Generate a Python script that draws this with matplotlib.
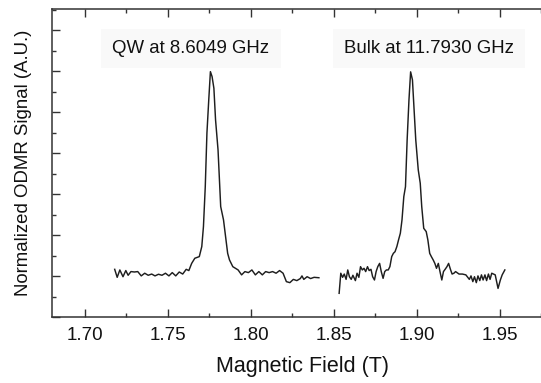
import matplotlib.pyplot as plt
from matplotlib.ticker import MultipleLocator, NullFormatter

plt.rcParams['font.family'] = ['Liberation Sans', 'DejaVu Sans']

# QW spectrum (field in T, normalized signal)
qwField = [1.7180, 1.7195, 1.7211, 1.7230, 1.7247, 1.7261, 1.7278, 1.7299,
           1.7319, 1.7340, 1.7361, 1.7382, 1.7403, 1.7423, 1.7444, 1.7465,
           1.7486, 1.7507, 1.7527, 1.7548, 1.7569, 1.7590, 1.7611, 1.7627,
           1.7644, 1.7663, 1.7690, 1.7705, 1.7715, 1.7726, 1.7736, 1.7747,
           1.7757, 1.7767, 1.7778, 1.7788, 1.7803, 1.7819, 1.7836, 1.7851,
           1.7861, 1.7872, 1.7892, 1.7924, 1.7945, 1.7965, 1.7986, 1.8007,
           1.8028, 1.8049, 1.8070, 1.8090, 1.8111, 1.8132, 1.8153, 1.8174,
           1.8195, 1.8215, 1.8236, 1.8257, 1.8278, 1.8299, 1.8309, 1.8320,
           1.8340, 1.8361, 1.8382, 1.8411]
qwSignal = [0.034, -0.005, 0.031, -0.002, 0.028, 0.005, 0.023, 0.021,
            0.023, 0.002, 0.015, 0.005, 0.011, 0.002, 0.010, 0.005,
            0.015, 0.002, 0.018, 0.002, 0.021, 0.011, 0.034, 0.028,
            0.063, 0.088, 0.096, 0.145, 0.242, 0.437, 0.698, 0.860,
            0.998, 0.974, 0.917, 0.763, 0.616, 0.340, 0.275, 0.177,
            0.112, 0.080, 0.047, 0.031, 0.007, 0.023, 0.018, 0.031,
            0.007, 0.023, 0.007, 0.023, 0.018, 0.023, 0.015, 0.028,
            0.015, -0.026, -0.031, -0.015, -0.021, -0.011, 0.002, -0.015,
            -0.002, -0.011, -0.005, -0.007]

# Bulk spectrum
bulkField = [1.8533, 1.8543, 1.8554, 1.8564, 1.8575, 1.8585, 1.8595, 1.8606,
             1.8616, 1.8631, 1.8641, 1.8652, 1.8662, 1.8673, 1.8683, 1.8693,
             1.8704, 1.8714, 1.8725, 1.8735, 1.8746, 1.8756, 1.8766, 1.8777,
             1.8787, 1.8798, 1.8808, 1.8818, 1.8829, 1.8839, 1.8850, 1.8860,
             1.8870, 1.8881, 1.8891, 1.8902, 1.8912, 1.8923, 1.8933, 1.8943,
             1.8954, 1.8964, 1.8975, 1.8985, 1.8995, 1.9010, 1.9022, 1.9031,
             1.9043, 1.9058, 1.9068, 1.9079, 1.9089, 1.9100, 1.9110, 1.9120,
             1.9131, 1.9141, 1.9152, 1.9162, 1.9172, 1.9183, 1.9193, 1.9204,
             1.9214, 1.9225, 1.9235, 1.9256, 1.9276, 1.9297, 1.9318, 1.9328,
             1.9339, 1.9349, 1.9360, 1.9370, 1.9381, 1.9391, 1.9401, 1.9412,
             1.9422, 1.9433, 1.9443, 1.9453, 1.9474, 1.9491, 1.9505, 1.9516,
             1.9532]
bulkSignal = [-0.083, 0.015, -0.005, 0.011, -0.015, 0.031, -0.002, -0.015,
              0.005, -0.021, 0.015, -0.005, 0.047, 0.031, 0.039, 0.023,
              0.047, 0.028, 0.034, -0.002, -0.018, 0.023, 0.047, 0.063,
              0.023, -0.010, 0.023, 0.031, 0.031, 0.047, 0.096, 0.112,
              0.120, 0.145, 0.177, 0.210, 0.275, 0.389, 0.437, 0.665,
              0.860, 0.997, 0.958, 0.811, 0.665, 0.519, 0.454, 0.340,
              0.234, 0.218, 0.177, 0.112, 0.096, 0.080, 0.063, 0.039,
              0.063, 0.023, -0.018, 0.023, 0.034, 0.047, 0.063, 0.034,
              0.011, 0.015, 0.023, 0.011, 0.011, 0.007, -0.015, 0.002,
              -0.026, -0.002, -0.031, 0.002, -0.021, 0.007, -0.018, 0.007,
              -0.021, 0.011, -0.015, 0.015, 0.007, -0.059, -0.018, 0.007,
              0.031]

labels = ['QW at 8.6049 GHz', 'Bulk at 11.7930 GHz']
labelPos = [(1.7639, 1.11), (1.9075, 1.11)]

fig = plt.figure(figsize=(5.41, 3.83), dpi=100)
ax = fig.add_axes([0.0955, 0.1715, 0.9045, 0.8042])

ax.plot(qwField, qwSignal, color='#1e1e1e', lw=1.05)
ax.plot(bulkField, bulkSignal, color='#1e1e1e', lw=1.05)

for txt, (x, y) in zip(labels, labelPos):
    ax.text(x, y, txt, ha='center', va='center', fontsize=13.4,
            color='#111111',
            bbox=dict(boxstyle='square,pad=0.6', fc='#f9f9f9', ec='none'))

ax.set_xlim(1.68, 1.975)
ax.set_ylim(-0.2, 1.302)
ax.xaxis.set_major_locator(MultipleLocator(0.05))
ax.xaxis.set_minor_locator(MultipleLocator(0.025))
ax.yaxis.set_major_locator(MultipleLocator(0.2))
ax.yaxis.set_minor_locator(MultipleLocator(0.1))
ax.yaxis.set_major_formatter(NullFormatter())
ax.xaxis.set_major_formatter(plt.FuncFormatter(lambda v, p: '%.2f' % v))
ax.tick_params(which='both', direction='in', top=True, right=False,
               color='#333333', width=1.0)
ax.tick_params(which='major', length=5.5, labelsize=13.5, pad=7,
               labelcolor='#111111')
ax.tick_params(which='minor', length=3)
ax.spines['right'].set_visible(False)
for s in ['left', 'bottom', 'top']:
    ax.spines[s].set_color('#333333')
    ax.spines[s].set_linewidth(1.1)

fig.text(302.5 / 541, 1 - 366.7 / 383, 'Magnetic Field (T)', fontsize=15.5,
         ha='center', va='center', color='#111111')
ax.set_ylabel('Normalized ODMR Signal (A.U.)', fontsize=13.4, labelpad=7,
              color='#111111')

fig.savefig('out.png', dpi=100)
